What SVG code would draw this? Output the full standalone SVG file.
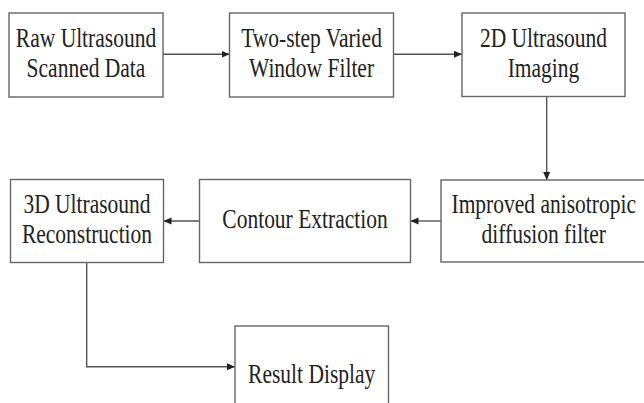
<svg xmlns="http://www.w3.org/2000/svg" width="644" height="403" viewBox="0 0 644 403">
  <style>
    .box { fill: #ffffff; stroke: #666666; stroke-width: 1.4; }
    .t { font-family: "Liberation Serif", "Times New Roman", serif; font-size: 21.5px; text-anchor: middle; fill: #222222; }
    .link { fill: none; stroke: #555555; stroke-width: 1.4; marker-end: url(#arrow); }
  </style>
  <defs>
    <marker id="arrow" markerUnits="userSpaceOnUse" markerWidth="8" markerHeight="8" refX="8" refY="4" orient="auto">
      <path d="M0,0.5 L8,4 L0,7.5 z" fill="#222222"/>
    </marker>
  </defs>
  <rect width="644" height="403" fill="#ffffff"/>

  <g id="connectors">
    <path class="link" d="M163,54.3 H229.5"/>
    <path class="link" d="M393.5,54.3 H462"/>
    <path class="link" d="M546.7,96.5 V180"/>
    <path class="link" d="M441,221 H410.5"/>
    <path class="link" d="M199.5,221 H163.5"/>
    <path class="link" d="M86.7,262.5 V366.7 H235"/>
  </g>

  <g id="raw-data">
    <rect class="box" x="9" y="13" width="154" height="84"/>
    <text class="t" transform="translate(86,46.7) scale(1,1.25)">Raw Ultrasound</text>
    <text class="t" transform="translate(86,77.3) scale(1,1.25)">Scanned Data</text>
  </g>

  <g id="window-filter">
    <rect class="box" x="229.5" y="13" width="164" height="84"/>
    <text class="t" transform="translate(311.5,46.7) scale(1,1.25)">Two-step Varied</text>
    <text class="t" transform="translate(311.5,77.3) scale(1,1.25)">Window Filter</text>
  </g>

  <g id="imaging-2d">
    <rect class="box" x="462" y="13" width="163" height="83.5"/>
    <text class="t" transform="translate(543.5,46.7) scale(1,1.25)">2D Ultrasound</text>
    <text class="t" transform="translate(543.5,76.5) scale(1,1.25)">Imaging</text>
  </g>

  <g id="diffusion-filter">
    <rect class="box" x="441" y="180" width="206" height="82"/>
    <text class="t" transform="translate(543.7,213.3) scale(1,1.25)">Improved anisotropic</text>
    <text class="t" transform="translate(543.7,243.3) scale(1,1.25)">diffusion filter</text>
  </g>

  <g id="contour-extraction">
    <rect class="box" x="199.5" y="179.5" width="211" height="83"/>
    <text class="t" transform="translate(305,228.3) scale(1,1.25)">Contour Extraction</text>
  </g>

  <g id="reconstruction-3d">
    <rect class="box" x="10.5" y="179.5" width="153" height="83"/>
    <text class="t" transform="translate(87,212.7) scale(1,1.25)">3D Ultrasound</text>
    <text class="t" transform="translate(87,243.3) scale(1,1.25)">Reconstruction</text>
  </g>

  <g id="result-display">
    <rect class="box" x="235" y="326" width="153.5" height="90"/>
    <text class="t" transform="translate(311.7,382.7) scale(1,1.25)">Result Display</text>
  </g>
</svg>
